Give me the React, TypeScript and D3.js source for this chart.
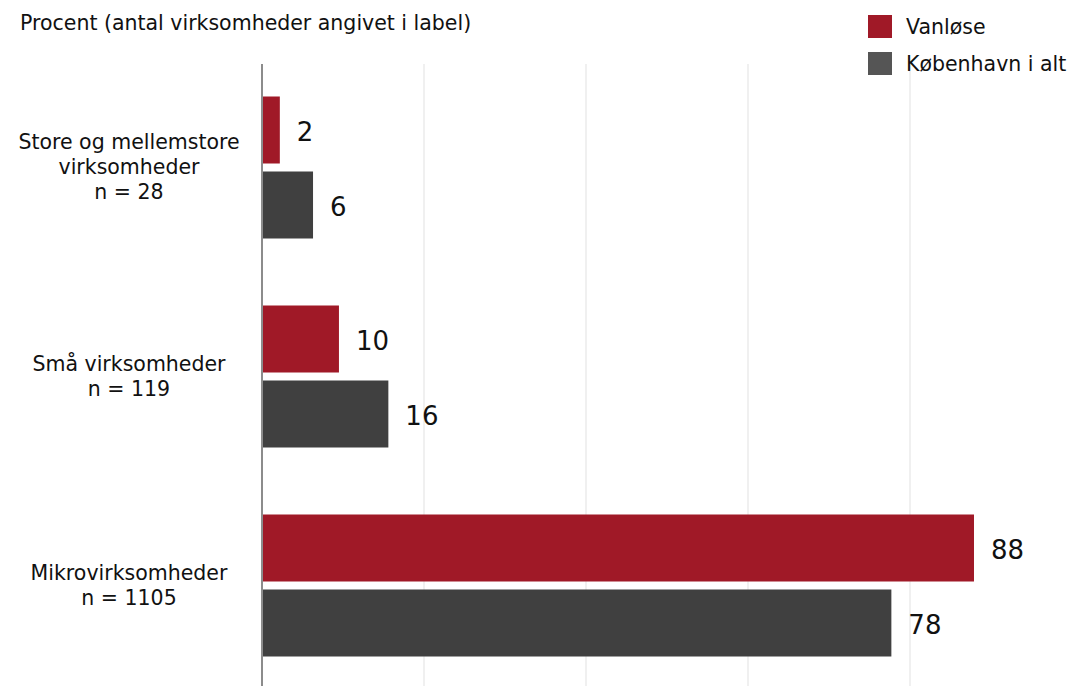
import React from "react";
import * as d3 from "d3";

const categories = ["Store og mellemstore virksomheder", "Små virksomheder", "Mikrovirksomheder"];
const categoryLabels: string[][] = [
  ["Store og mellemstore", "virksomheder", "n = 28"],
  ["Små virksomheder", "n = 119"],
  ["Mikrovirksomheder", "n = 1105"],
];
const seriesNames = ["Vanløse", "København i alt"];
const vanloese = [2.2, 9.5, 87.9];
const kobenhavn = [6.3, 15.6, 77.7];
const xTicks = [0, 20, 40, 60, 80, 100];
const title = "Procent (antal virksomheder angivet i label)";

const W = 1071;
const H = 686;
const colors = ["#a01927", "#404040"];
const legendColors = ["#a01927", "#555555"];
const FONT = "'DejaVu Sans', sans-serif";

export default function App() {
  const x = d3.scaleLinear().domain([0, 100]).range([262, 1072]);
  const y0 = d3.scaleBand<string>().domain(categories).range([63, 690]).padding(0);
  const y1 = d3
    .scaleBand<string>()
    .domain(seriesNames)
    .range([33.5, 175.5])
    .paddingInner(8 / 75)
    .paddingOuter(0);
  const data = [vanloese, kobenhavn];

  return (
    <svg
      width={W}
      height={H}
      style={{ position: "absolute", left: 0, top: 0, background: "#fff" }}
      fontFamily={FONT}
    >
      {xTicks.slice(1).map((t) => (
        <line key={t} x1={x(t)} x2={x(t)} y1={64} y2={H} stroke="#ebebeb" strokeWidth={1.5} />
      ))}
      {categories.map((c, i) => (
        <g key={c} transform={`translate(0,${y0(c)})`}>
          {seriesNames.map((s, j) => {
            const v = data[j][i];
            const yy = y1(s)!;
            const bw = y1.bandwidth();
            return (
              <g key={s}>
                <rect
                  x={x(0)}
                  y={yy}
                  width={x(v) - x(0)}
                  height={bw}
                  fill={colors[j]}
                />
                <text
                  x={x(v) + 17}
                  y={yy + bw / 2 + 2}
                  dy="0.35em"
                  fontSize={26}
                  fill="#111"
                >
                  {d3.format(".0f")(v)}
                </text>
              </g>
            );
          })}
          {categoryLabels[i].map((line, k) => (
            <text
              key={k}
              x={129}
              y={y0.bandwidth() / 2 - 0.5 + (k - (categoryLabels[i].length - 1) / 2) * 25}
              dy="0.35em"
              textAnchor="middle"
              fontSize={20.5}
              fill="#111"
            >
              {line}
            </text>
          ))}
        </g>
      ))}
      <line x1={x(0)} x2={x(0)} y1={64} y2={H} stroke="#8c8c8c" strokeWidth={2} />
      <text x={20} y={23} dy="0.35em" fontSize={20.5} fill="#111">
        {title}
      </text>
      {seriesNames.map((s, j) => (
        <g key={s} transform={`translate(868,${15 + j * 37})`}>
          <rect width={24} height={23} fill={legendColors[j]} />
          <text x={38} y={12} dy="0.35em" fontSize={20.5} fill="#111">
            {s}
          </text>
        </g>
      ))}
    </svg>
  );
}
